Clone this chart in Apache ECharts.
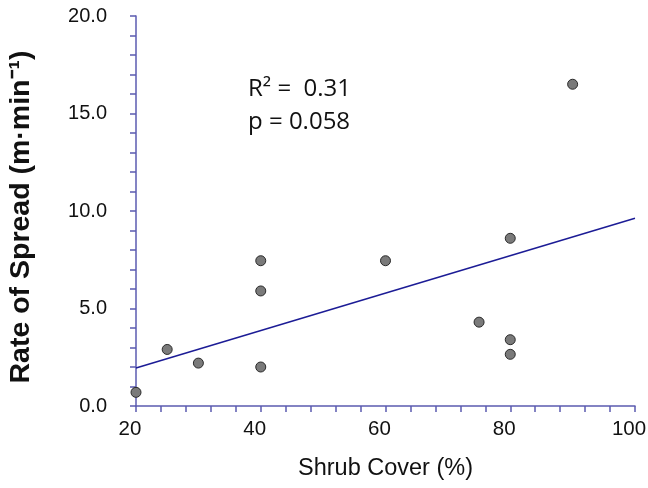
<!DOCTYPE html>
<html>
<head>
<meta charset="utf-8">
<script src="https://cdn.jsdelivr.net/npm/echarts@6/dist/echarts.min.js"></script>
<style>
  html, body { margin: 0; padding: 0; background: #fff; }
  #chart { width: 648px; height: 488px; }
</style>
</head>
<body>
<div id="chart"></div>
<script>
// shrub cover (%) vs rate of spread (m/min)
const shrubCover = [20, 25, 30, 40, 40, 40, 60, 75, 80, 80, 80, 90];
const spreadRate = [0.7, 2.9, 2.2, 2.0, 5.9, 7.45, 7.45, 4.3, 8.6, 3.4, 2.65, 16.5];
// fitted line end points
const fitX = [20, 100];
const fitY = [1.95, 9.63];
const statLines = ["R\u00b2 =  0.31", "p = 0.058"];

const axisColor = "#5b5bb0";
const chart = echarts.init(document.getElementById("chart"));
chart.setOption({
  animation: false,
  backgroundColor: "#fff",
  grid: { left: 136, right: 13, top: 16, bottom: 82, outerBoundsMode: "none" },
  xAxis: {
    type: "value",
    min: 20,
    max: 100,
    interval: 20,
    name: "Shrub Cover (%)",
    nameLocation: "middle",
    nameGap: 51,
    nameTextStyle: { fontFamily: "Liberation Sans", fontSize: 23.5, color: "#111" },
    axisLine: { show: true, lineStyle: { color: axisColor, width: 1.5 } },
    axisTick: { show: true, length: 6, lineStyle: { color: axisColor, width: 1.5 } },
    minorTick: { show: true, splitNumber: 5, length: 6, lineStyle: { color: axisColor, width: 1.5 } },
    splitLine: { show: false },
    axisLabel: {
      fontFamily: "Liberation Sans",
      fontSize: 20.5,
      color: "#111",
      margin: 13,
      padding: [0, 12, 0, 0],
    },
  },
  yAxis: {
    type: "value",
    min: 0,
    max: 20,
    interval: 5,
    name: "Rate of Spread (m\u00b7min\u207b\u00b9)",
    nameLocation: "middle",
    nameGap: 100,
    nameTextStyle: { fontFamily: "Liberation Sans", fontSize: 28.5, fontWeight: "bold", color: "#111", padding: [0, 12, 0, 0] },
    axisLine: { show: true, lineStyle: { color: axisColor, width: 1.5 } },
    axisTick: { show: true, length: 6, lineStyle: { color: axisColor, width: 1.5 } },
    minorTick: { show: true, splitNumber: 5, length: 6, lineStyle: { color: axisColor, width: 1.5 } },
    splitLine: { show: false },
    axisLabel: {
      fontFamily: "Liberation Sans",
      fontSize: 20,
      color: "#111",
      margin: 29,
      formatter: (v) => v.toFixed(1),
    },
  },
  graphic: [
    {
      type: "text",
      left: 248,
      top: 77,
      style: { text: statLines[0], font: "24px 'Open Sans'", fill: "#111" },
    },
    {
      type: "text",
      left: 248,
      top: 110,
      style: { text: statLines[1], font: "24px 'Open Sans'", fill: "#111" },
    },
  ],
  series: [
    {
      type: "line",
      data: fitX.map((x, i) => [x, fitY[i]]),
      symbol: "none",
      lineStyle: { color: "#1c1c96", width: 1.5 },
      z: 1,
    },
    {
      type: "scatter",
      data: shrubCover.map((x, i) => [x, spreadRate[i]]),
      symbol: "circle",
      symbolSize: 10,
      itemStyle: { color: "#7a7a7a", borderColor: "#2a2a2a", borderWidth: 1, opacity: 1 },
      z: 3,
    },
  ],
});
</script>
</body>
</html>
